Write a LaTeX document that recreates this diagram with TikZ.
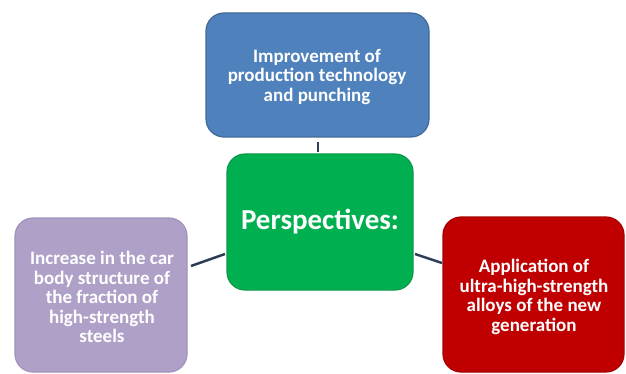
\documentclass[tikz,border=0pt]{standalone}
\usepackage{fontspec}
\setmainfont{Carlito}
\definecolor{bluebox}{HTML}{4F81BD}
\definecolor{blueedge}{HTML}{41699A}
\definecolor{greenbox}{HTML}{00B050}
\definecolor{greenedge}{HTML}{0A9A48}
\definecolor{purplebox}{HTML}{AFA0C8}
\definecolor{purpleedge}{HTML}{A192BD}
\definecolor{redbox}{HTML}{C00000}
\definecolor{rededge}{HTML}{A80000}
\definecolor{linkcol}{HTML}{2E3D58}
\begin{document}
\begin{tikzpicture}[x=1pt,y=-1pt,
  box/.style={rounded corners=18pt, line width=1.2pt},
  lbl/.style={text=white, font=\bfseries\fontsize{19}{19.5}\selectfont, align=center},
  link/.style={draw=linkcol, line width=2.5pt}]
\useasboundingbox (0,0) rectangle (626,374);
\path[box, fill=bluebox, draw=blueedge] (206,13) rectangle (429,137);
\path[box, fill=greenbox, draw=greenedge] (227,154) rectangle (413,290);
\path[box, fill=purplebox, draw=purpleedge] (15,218) rectangle (187,372);
\path[box, fill=redbox, draw=rededge] (443,217) rectangle (624,372);
\node[lbl] (top) at (317,77) {Improvement of\\production technology\\and punching};
\node[text=white, font=\bfseries\fontsize{29}{31}\selectfont] (mid) at (320,222) {Perspectives:};
\node[lbl] (left) at (102,297) {Increase in the car\\body structure of\\the fraction of\\high-strength\\steels};
\node[lbl] (right) at (534,297) {Application of\\ultra-high-strength\\alloys of the new\\generation};
\coordinate (t1) at (318,142);
\coordinate (t2) at (318,152);
\coordinate (l1) at (191,266);
\coordinate (l2) at (225,254);
\coordinate (r1) at (415,254);
\coordinate (r2) at (442,263);
\draw[link] (t1) -- (t2);
\draw[link] (l1) -- (l2);
\draw[link] (r1) -- (r2);
\end{tikzpicture}
\end{document}
